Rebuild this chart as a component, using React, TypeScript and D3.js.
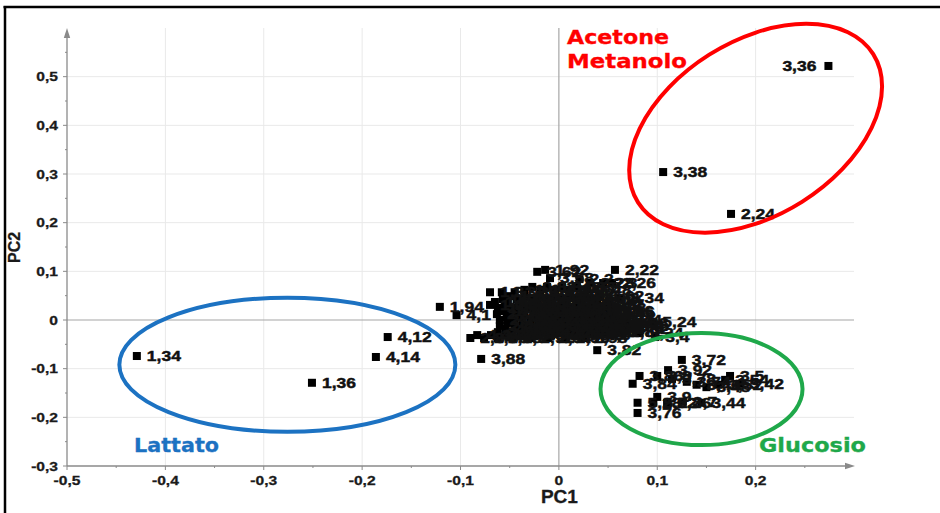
import React from "react";
import * as d3 from "d3";

const W = 940;
const H = 513;

// ---- axis ticks ----
const xTicks = [-0.5, -0.4, -0.3, -0.2, -0.1, 0, 0.1, 0.2];
const yTicks = [-0.3, -0.2, -0.1, 0, 0.1, 0.2, 0.3, 0.4, 0.5];
const xMinor = [-0.45, -0.35, -0.25, -0.15, -0.05, 0.05, 0.15, 0.25];
const yMinor = [-0.25, -0.15, -0.05, 0.05, 0.15, 0.25, 0.35, 0.45, 0.55];

// ---- scores (bucket label, PC1, PC2) ----
const sampleLabels = [
  // isolated / named buckets
  "3,36", "3,38", "2,24", "1,34", "1,36", "4,12", "4,14", "1,94", "4,1", "3,88",
  "3,82", "2,22", "2,26", "3,34", "5,24", "3,24", "3,4", "2,56",
  // glucose group
  "3,72", "3,92", "3,5", "3,42", "3,86", "3,84", "3,8", "3,78", "3,74", "3,46",
  "3,48", "3,52", "3,54", "3,9", "5,22", "5,26", "3,7", "3,44", "5,28", "3,76",
  // central cluster
  "3,62", "1,92", "3,58", "2,2", "2,28", "2,3",
  "1,3", "1,32", "1,38",
  "1,4", "1,42", "1,44", "1,46", "1,48",
  "1,5", "1,52", "1,54", "1,56", "1,58", "1,6", "1,62",
  "1,64", "1,66", "1,68", "1,7", "1,72", "1,74", "1,76", "1,78",
  "1,8", "1,82", "1,84", "1,86", "1,88", "1,9", "1,96", "1,98",
  "2", "2,02", "2,04", "2,06", "2,08", "2,1", "2,12", "2,14",
  "2,16", "2,18", "2,32", "2,34", "2,36", "2,38", "2,4", "2,42", "2,44",
  "2,46", "2,48", "2,5", "2,52", "2,54", "2,58", "2,6", "2,62", "2,64", "5,2",
  "2,66", "2,68", "2,7", "2,72", "2,74", "2,76", "2,78", "2,8", "2,82",
  "2,84", "2,86", "2,88", "2,9", "2,92", "2,94", "2,96", "2,98",
  // central cluster, in-between buckets
  "0,82", "0,84", "0,86", "0,88",
  "0,9", "0,92", "0,94", "0,96", "0,98", "1", "1,02",
  "1,04", "1,06", "1,08", "1,1", "1,12", "1,14", "1,16", "1,18", "1,2",
  "1,22", "1,24", "1,26", "1,28", "3", "3,02", "3,04", "3,06",
  "3,08", "3,1", "3,12", "3,14", "3,16", "3,18", "3,2", "3,22",
  "3,26", "3,28", "3,3", "3,32", "4", "4,02", "4,04", "4,06", "4,08",
  "4,16", "4,18", "4,2", "4,22", "4,24", "4,26", "4,28", "4,3", "4,32",
  "4,34", "4,36", "4,38", "4,4", "4,42", "4,44", "4,46", "4,48", "4,5",
];

const pc1Scores = [
  0.274, 0.106, 0.175, -0.429, -0.251, -0.174, -0.186, -0.121, -0.104, -0.079,
  0.039, 0.057, 0.054, 0.062, 0.095, 0.082, 0.098, 0.053,
  0.125, 0.111, 0.174, 0.184, 0.082, 0.075, 0.1, 0.115, 0.13, 0.14,
  0.15, 0.162, 0.169, 0.1, 0.096, 0.11, 0.126, 0.145, 0.08, 0.08,
  -0.022, -0.014, -0.009, 0.021, 0.032, 0.045,
  -0.07, -0.058, -0.045,
  -0.035, -0.019, -0.004, 0.011, 0.029,
  -0.05, -0.035, -0.019, -0.004, 0.011, 0.026, 0.042,
  -0.065, -0.052, -0.038, -0.022, -0.007, 0.008, 0.023, 0.039,
  -0.062, -0.048, -0.033, -0.017, -0.002, 0.013, 0.028, 0.044,
  -0.063, -0.05, -0.035, -0.019, -0.004, 0.011, 0.026, 0.042,
  -0.06, -0.045, -0.029, -0.014, 0.001, 0.016, 0.032, 0.047, 0.06,
  -0.06, -0.045, -0.029, -0.014, 0.001, 0.016, 0.032, 0.047, 0.062, 0.072,
  -0.062, -0.047, -0.032, -0.016, -0.001, 0.014, 0.029, 0.045, 0.062,
  -0.09, -0.076, -0.062, -0.047, -0.029, -0.011, 0.007, 0.025,
  -0.027, -0.012, 0.003, 0.018,
  -0.057, -0.043, -0.027, -0.012, 0.003, 0.018, 0.034,
  -0.07, -0.055, -0.041, -0.025, -0.01, 0.005, 0.02, 0.036, 0.05,
  -0.056, -0.042, -0.026, -0.011, 0.004, 0.019, 0.035, 0.052,
  -0.053, -0.038, -0.022, -0.007, 0.008, 0.023, 0.039, 0.054,
  -0.052, -0.037, -0.021, -0.006, 0.009, 0.024, 0.04, 0.055, 0.067,
  -0.054, -0.039, -0.023, -0.008, 0.007, 0.022, 0.038, 0.053, 0.068,
  -0.083, -0.069, -0.054, -0.039, -0.023, -0.008, 0.007, 0.022, 0.038,
];

const pc2Scores = [
  0.522, 0.304, 0.218, -0.074, -0.129, -0.035, -0.076, 0.027, 0.01, -0.08,
  -0.062, 0.103, 0.076, 0.045, -0.004, -0.027, -0.035, 0.016,
  -0.082, -0.103, -0.115, -0.131, -0.115, -0.131, -0.115, -0.121, -0.127, -0.133,
  -0.138, -0.133, -0.123, -0.158, -0.17, -0.17, -0.168, -0.17, -0.17, -0.191,
  0.099, 0.103, 0.086, 0.084, 0.076, 0.076,
  0.057, 0.057, 0.057,
  0.062, 0.062, 0.062, 0.062, 0.062,
  0.049, 0.049, 0.049, 0.049, 0.049, 0.049, 0.049,
  0.037, 0.037, 0.037, 0.037, 0.037, 0.037, 0.037, 0.037,
  0.025, 0.025, 0.025, 0.025, 0.025, 0.025, 0.025, 0.025,
  0.012, 0.012, 0.012, 0.012, 0.012, 0.012, 0.012, 0.012,
  0, 0, 0, 0, 0, 0, 0, 0, 0,
  -0.012, -0.012, -0.012, -0.012, -0.012, -0.012, -0.012, -0.012, -0.012, -0.012,
  -0.025, -0.025, -0.025, -0.025, -0.025, -0.025, -0.025, -0.025, -0.025,
  -0.037, -0.037, -0.037, -0.037, -0.037, -0.037, -0.037, -0.037,
  0.068, 0.068, 0.068, 0.068,
  0.043, 0.043, 0.043, 0.043, 0.043, 0.043, 0.043,
  0.031, 0.031, 0.031, 0.031, 0.031, 0.031, 0.031, 0.031, 0.031,
  0.018, 0.018, 0.018, 0.018, 0.018, 0.018, 0.018, 0.018,
  0.006, 0.006, 0.006, 0.006, 0.006, 0.006, 0.006, 0.006,
  -0.006, -0.006, -0.006, -0.006, -0.006, -0.006, -0.006, -0.006, -0.006,
  -0.018, -0.018, -0.018, -0.018, -0.018, -0.018, -0.018, -0.018, -0.018,
  -0.031, -0.031, -0.031, -0.031, -0.031, -0.031, -0.031, -0.031, -0.031,
];

const labelOnLeft = ["3,36"];

// ---- group annotations ----
const groupNames = ["Acetone", "Metanolo", "Lattato", "Glucosio"];
const groupColors = { red: "#ff0000", blue: "#1c72c2", green: "#1fa84a" };

const fmt = (v: number) => {
  const r = Math.round(v * 10) / 10;
  if (r === 0) return "0";
  return r.toFixed(1).replace(".", ",");
};

type TProps = {
  x: number;
  y: number;
  sx?: number;
  anchor?: "start" | "middle" | "end";
  size: number;
  fill?: string;
  family?: string;
  weight?: string | number;
  children: React.ReactNode;
  len?: number;
  rotate?: number;
  stroke?: number;
};

const T = ({ x, y, sx = 1, anchor = "start", size, fill = "#111", family = "'Liberation Sans', Arial, sans-serif", weight = "bold", children, len, rotate, stroke }: TProps) => (
  <text
    transform={`translate(${x},${y})${rotate ? ` rotate(${rotate})` : ""} scale(${sx},1)`}
    textAnchor={anchor}
    fontSize={size}
    fontFamily={family}
    fontWeight={weight}
    fill={fill}
    stroke={stroke ? fill : undefined}
    strokeWidth={stroke}
    textLength={len}
    lengthAdjust={len ? "spacingAndGlyphs" : undefined}
  >
    {children}
  </text>
);

export default function App() {
  const x = d3.scaleLinear().domain([-0.5, 0.3]).range([67, 854]);
  const y = d3.scaleLinear().domain([-0.3, 0.6]).range([466, 28]);
  const x0 = x(-0.5);
  const x1 = x(0.3);
  const yTop = y(0.6);
  const yBot = y(-0.3);

  const points = sampleLabels.map((label, i) => ({
    label,
    px: x(pc1Scores[i]),
    py: y(pc2Scores[i]),
    left: labelOnLeft.includes(label),
  }));

  const gridCol = "#e9e9e9";
  const axisCol = "#8a8a8a";
  const zeroCol = "#a6a6a6";
  const annFont = "'DejaVu Sans', Verdana, sans-serif";

  return (
    <svg width={W} height={H} style={{ position: "absolute", left: 0, top: 0, background: "#fff" }}>
      <rect x={0} y={0} width={W} height={H} fill="#fff" />

      {/* grid */}
      {xTicks.filter((t) => t !== -0.5 && t !== 0).map((t) => (
        <line key={"gx" + t} x1={x(t)} x2={x(t)} y1={yTop} y2={yBot} stroke={gridCol} strokeWidth={1} />
      ))}
      {yTicks.filter((t) => t !== -0.3 && t !== 0).map((t) => (
        <line key={"gy" + t} x1={x0} x2={x1} y1={y(t)} y2={y(t)} stroke={gridCol} strokeWidth={1} />
      ))}
      {/* zero lines */}
      <line x1={x(0)} x2={x(0)} y1={yTop} y2={yBot} stroke={zeroCol} strokeWidth={1.2} />
      <line x1={x0} x2={x1} y1={y(0)} y2={y(0)} stroke={zeroCol} strokeWidth={1.2} />

      {/* axes */}
      <line x1={x0} x2={x0} y1={yBot} y2={yTop + 6} stroke={axisCol} strokeWidth={1.3} />
      <polygon points={`${x0},${yTop} ${x0 - 3.2},${yTop + 10} ${x0 + 3.2},${yTop + 10}`} fill={axisCol} />
      <line x1={x0} x2={x1 - 6} y1={yBot} y2={yBot} stroke={axisCol} strokeWidth={1.3} />
      <polygon points={`${x1 + 1},${yBot} ${x1 - 9},${yBot - 3.2} ${x1 - 9},${yBot + 3.2}`} fill={axisCol} />

      {/* ticks */}
      {yTicks.map((t) => (
        <line key={"ty" + t} x1={x0 - 4} x2={x0} y1={y(t)} y2={y(t)} stroke={axisCol} strokeWidth={1} />
      ))}
      {yMinor.map((t) => (
        <line key={"tym" + t} x1={x0 - 2} x2={x0} y1={y(t)} y2={y(t)} stroke={axisCol} strokeWidth={1} />
      ))}
      {xTicks.map((t) => (
        <line key={"tx" + t} x1={x(t)} x2={x(t)} y1={yBot} y2={yBot + 4} stroke={axisCol} strokeWidth={1} />
      ))}
      {xMinor.map((t) => (
        <line key={"txm" + t} x1={x(t)} x2={x(t)} y1={yBot} y2={yBot + 2} stroke={axisCol} strokeWidth={1} />
      ))}

      {/* tick labels */}
      {yTicks.map((t) => (
        <T key={"ly" + t} x={x0 - 9} y={y(t) + 4.5} anchor="end" size={13} sx={1.2} fill="#1a1a1a" stroke={0.3}>
          {fmt(t)}
        </T>
      ))}
      {xTicks.map((t) => (
        <T key={"lx" + t} x={x(t)} y={yBot + 19} anchor="middle" size={13} sx={1.2} fill="#1a1a1a" stroke={0.3}>
          {fmt(t)}
        </T>
      ))}

      {/* axis titles */}
      <T x={x(0) - 18} y={503} size={18} len={37} fill="#1a1a1a" stroke={0.3}>PC1</T>
      <T x={20} y={263} size={17} len={31} rotate={-90} fill="#1a1a1a" stroke={0.3}>PC2</T>

      {/* points */}
      {points.map((p, i) => (
        <rect key={"p" + i} x={p.px - 4} y={p.py - 4} width={8} height={8} fill="#000" />
      ))}
      {points.map((p, i) => (
        <T
          key={"l" + i}
          x={p.left ? p.px - 12 : p.px + 10}
          y={p.py + 5}
          anchor={p.left ? "end" : "start"}
          size={14}
          sx={1.25}
          fill="#111"
          stroke={0.45}
        >
          {p.label}
        </T>
      ))}

      {/* group ellipses */}
      <ellipse
        cx={x(0.2)}
        cy={y(0.394)}
        rx={139}
        ry={87}
        transform={`rotate(-32.2 ${x(0.2)} ${y(0.394)})`}
        fill="none"
        stroke={groupColors.red}
        strokeWidth={4}
      />
      <ellipse cx={x(-0.276)} cy={y(-0.092)} rx={168} ry={67} fill="none" stroke={groupColors.blue} strokeWidth={4} />
      <ellipse cx={x(0.145)} cy={y(-0.142)} rx={101} ry={56} fill="none" stroke={groupColors.green} strokeWidth={4} />

      {/* group names */}
      <T x={567} y={44} size={19} len={102} family={annFont} fill={groupColors.red} stroke={0.3}>{groupNames[0]}</T>
      <T x={567} y={68} size={19} len={120} family={annFont} fill={groupColors.red} stroke={0.3}>{groupNames[1]}</T>
      <T x={134} y={452} size={19} len={85} family={annFont} fill={groupColors.blue} stroke={0.3}>{groupNames[2]}</T>
      <T x={759} y={452} size={19} len={107} family={annFont} fill={groupColors.green} stroke={0.3}>{groupNames[3]}</T>

      {/* frame */}
      <line x1={3.5} x2={W} y1={7} y2={7} stroke="#000" strokeWidth={2.5} />
      <line x1={5} x2={5} y1={6} y2={H} stroke="#000" strokeWidth={2.5} />
    </svg>
  );
}
